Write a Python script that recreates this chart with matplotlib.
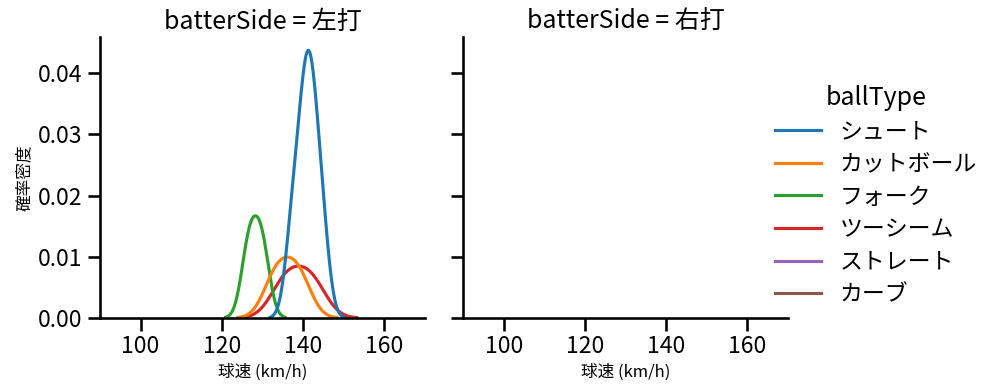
import matplotlib
matplotlib.use("Agg")
import matplotlib.pyplot as plt
import pandas as pd
import seaborn as sns

ball_types = ["シュート", "カットボール", "フォーク", "ツーシーム", "ストレート", "カーブ"]
sides = ["左打", "右打"]

# 左打 pitch speeds (km/h), estimated from the curves
left_shoot = [137.3, 139.45, 140.8, 141.6, 142.65, 144.7]
left_cutter = [133.5, 138.7]
left_fork = [126.7, 129.8]
left_twoseam = [135.8, 141.9]
# 右打: a single pitch per type, so no curve is drawn there
right_speeds = [140.0, 135.0, 128.0, 138.0, 145.0, 115.0]

rows = []
for bt, vals in zip(ball_types[:4], [left_shoot, left_cutter, left_fork, left_twoseam]):
    for v in vals:
        rows.append({"batterSide": "左打", "ballType": bt, "speed": v})
for bt, v in zip(ball_types, right_speeds):
    rows.append({"batterSide": "右打", "ballType": bt, "speed": v})
df = pd.DataFrame(rows)

sns.set_context("talk")
plt.rcParams["font.family"] = ["Noto Sans CJK JP", "DejaVu Sans"]

g = sns.displot(df, x="speed", hue="ballType", col="batterSide", kind="kde",
                hue_order=ball_types, col_order=sides, height=4, aspect=1,
                palette="tab10", warn_singular=False)
g.set(xlim=(90, 170))
g.set_axis_labels("球速 (km/h)", "確率密度", fontsize=12)
g.set_titles("{col_var} = {col_name}")

g.figure.set_size_inches(9.97, 3.91)
g.figure.subplots_adjust(left=0.1003, right=0.7904, bottom=0.1867, top=0.9054, wspace=0.117)
sns.move_legend(g, "center left", bbox_to_anchor=(0.757, 0.5), frameon=False,
                labelspacing=0.42)

g.figure.savefig("out.png", dpi=100)
